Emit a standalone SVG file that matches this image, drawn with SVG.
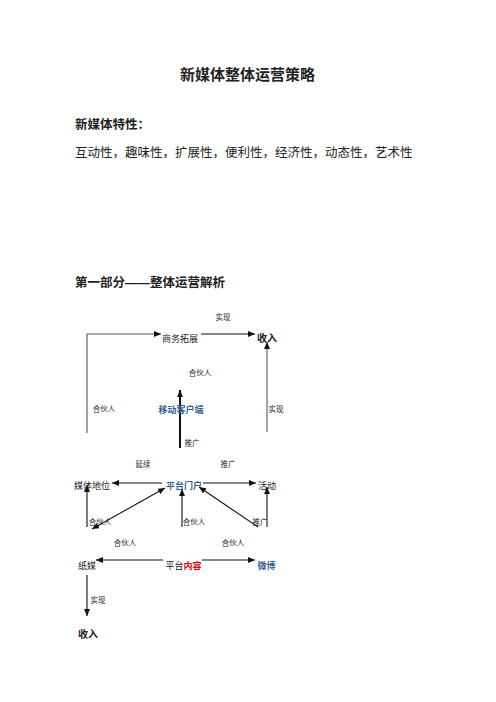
<svg xmlns="http://www.w3.org/2000/svg" width="496" height="702" viewBox="0 0 496 702">
<style>
text{font-family:"Liberation Sans","Noto Sans CJK SC",sans-serif;fill:#222}
.t{font-size:15px;font-weight:bold;text-anchor:middle}
.h{font-size:12.5px;font-weight:bold}
.p{font-size:12.5px}
.s{font-size:7.5px;text-anchor:middle}
.m{font-size:9px;text-anchor:middle}
.b{font-size:10px;font-weight:bold;text-anchor:middle}
.blue{fill:#365F91;font-weight:bold}
.red{fill:#E00000;font-weight:bold}
.c{fill:none;stroke:#111;stroke-width:1.1}
.g{stroke:#555}
.k{stroke-width:2}
</style>
<defs>
<marker id="a" markerUnits="userSpaceOnUse" markerWidth="8" markerHeight="6" refX="7" refY="3" orient="auto-start-reverse">
<path d="M0,0 L7,3 L0,6 z" fill="#111"/>
</marker>
</defs>
<rect width="496" height="702" fill="#fff"/>
<g id="header">
<text class="t" x="247.5" y="79.5">新媒体整体运营策略</text>
<text class="h" x="75" y="128.7">新媒体特性：</text>
<text class="p" x="75" y="156.7">互动性，趣味性，扩展性，便利性，经济性，动态性，艺术性</text>
<text class="h" x="75" y="286.5">第一部分——整体运营解析</text>
</g>
<g id="connectors">
<polyline class="c g" points="87,433 87,334 161,334" marker-end="url(#a)"/>
<line class="c" x1="201" y1="334" x2="255" y2="334" marker-end="url(#a)"/>
<line class="c g" x1="267" y1="432" x2="267" y2="342" marker-end="url(#a)"/>
<line class="c k" x1="180" y1="448" x2="180" y2="390" marker-end="url(#a)"/>
<line class="c" x1="162" y1="483" x2="112" y2="483" marker-end="url(#a)"/>
<line class="c" x1="203" y1="483" x2="256" y2="483" marker-end="url(#a)"/>
<line class="c" x1="87" y1="527" x2="87" y2="485" marker-end="url(#a)"/>
<line class="c" x1="92" y1="529" x2="165" y2="488" marker-start="url(#a)" marker-end="url(#a)"/>
<line class="c" x1="182" y1="527" x2="182" y2="489" marker-end="url(#a)"/>
<line class="c" x1="258" y1="527" x2="199" y2="487" marker-end="url(#a)"/>
<line class="c" x1="267" y1="527" x2="267" y2="487" marker-end="url(#a)"/>
<line class="c" x1="163" y1="560" x2="96" y2="560" marker-end="url(#a)"/>
<line class="c" x1="202" y1="560" x2="255" y2="560" marker-end="url(#a)"/>
<line class="c" x1="87" y1="575" x2="87" y2="616" marker-end="url(#a)"/>
</g>
<g id="labels">
<text class="s" x="223" y="320">实现</text>
<text class="s" x="200" y="376">合伙人</text>
<text class="s" x="104" y="412">合伙人</text>
<text class="s" x="276" y="412">实现</text>
<text class="s" x="192" y="446">推广</text>
<text class="s" x="143" y="467">延续</text>
<text class="s" x="228" y="467">推广</text>
<text class="s" x="100" y="525">合伙人</text>
<text class="s" x="194" y="525">合伙人</text>
<text class="s" x="260" y="525">推广</text>
<text class="s" x="125" y="546">合伙人</text>
<text class="s" x="233" y="546">合伙人</text>
<text class="s" x="98" y="603">实现</text>
</g>
<g id="node-shangwu"><text class="m" x="180" y="341.5">商务拓展</text></g>
<g id="node-shouru-top"><text class="b" x="267" y="341.8">收入</text></g>
<g id="node-yidong"><text class="m blue" x="181" y="412.5">移动客户端</text></g>
<g id="node-meiti"><text class="m" x="92" y="488.5">媒体地位</text></g>
<g id="node-menhu"><text class="m blue" x="184" y="488.5">平台门户</text></g>
<g id="node-huodong"><text class="m" x="267" y="488.5">活动</text></g>
<g id="node-zhimei"><text class="m" x="87" y="568.5">纸媒</text></g>
<g id="node-neirong"><text class="m" x="183.5" y="568.5">平台<tspan class="red">内容</tspan></text></g>
<g id="node-weibo"><text class="m blue" x="266.5" y="568.5">微博</text></g>
<g id="node-shouru-bottom"><text class="b" x="88" y="637.8">收入</text></g>
</svg>
